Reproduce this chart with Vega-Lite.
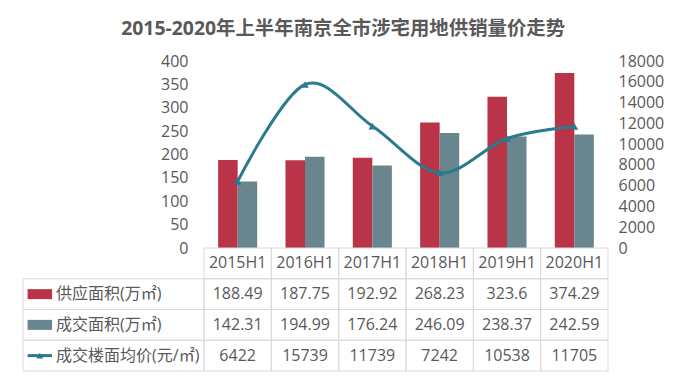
{
  "$schema": "https://vega.github.io/schema/vega-lite/v6.json",
  "padding": {"left": 22, "top": 18, "right": 5, "bottom": 5},
  "title": {
    "text": "2015-2020年上半年南京全市涉宅用地供销量价走势",
    "font": "Open Sans, Noto Sans CJK SC",
    "fontSize": 19.4,
    "fontWeight": "bold",
    "color": "#595959",
    "anchor": "middle",
    "offset": 14
  },
  "datasets": {
    "main": [
      {"year": "2015H1", "supply": 188.49, "deal": 142.31, "price": 6422},
      {"year": "2016H1", "supply": 187.75, "deal": 194.99, "price": 15739},
      {"year": "2017H1", "supply": 192.92, "deal": 176.24, "price": 11739},
      {"year": "2018H1", "supply": 268.23, "deal": 246.09, "price": 7242},
      {"year": "2019H1", "supply": 323.6, "deal": 238.37, "price": 10538},
      {"year": "2020H1", "supply": 374.29, "deal": 242.59, "price": 11705}
    ],
    "series": [
      {"key": "supply", "name": "供应面积(万㎡)"},
      {"key": "deal", "name": "成交面积(万㎡)"},
      {"key": "price", "name": "成交楼面均价(元/㎡)"}
    ]
  },
  "columns": 2,
  "spacing": 0,
  "bounds": "flush",
  "resolve": {"scale": {"x": "independent", "y": "independent", "color": "independent", "xOffset": "independent"}},
  "concat": [
    {
      "width": 181,
      "height": 187,
      "data": {"values": []},
      "mark": "text",
      "encoding": {}
    },
    {
      "width": 404,
      "height": 187,
      "data": {"name": "main"},
      "layer": [
        {
          "transform": [{"fold": ["supply", "deal"], "as": ["key", "value"]}],
          "mark": {"type": "bar"},
          "encoding": {
            "x": {"field": "year", "type": "nominal", "axis": null, "scale": {"paddingInner": 0.42, "paddingOuter": 0.21}},
            "xOffset": {"field": "key", "type": "nominal", "scale": {"domain": ["supply", "deal"], "paddingInner": 0, "paddingOuter": 0}},
            "y": {
              "field": "value", "type": "quantitative",
              "scale": {"domain": [0, 400], "nice": false},
              "axis": {"orient": "left", "values": [0, 50, 100, 150, 200, 250, 300, 350, 400], "labelPadding": 16, "title": null}
            },
            "color": {"field": "key", "type": "nominal", "scale": {"domain": ["supply", "deal"], "range": ["#B93447", "#69858D"]}, "legend": null}
          }
        },
        {
          "layer": [
            {
              "mark": {"type": "line", "interpolate": "cardinal", "color": "#2B7A8E", "strokeWidth": 3},
              "encoding": {
                "x": {"field": "year", "type": "nominal", "axis": null, "scale": {"paddingInner": 0.42, "paddingOuter": 0.21}},
                "y": {
                  "field": "price", "type": "quantitative",
                  "scale": {"domain": [0, 18000], "nice": false},
                  "axis": {"orient": "right", "values": [0, 2000, 4000, 6000, 8000, 10000, 12000, 14000, 16000, 18000], "format": "d", "labelPadding": 10, "title": null}
                }
              }
            },
            {
              "mark": {"type": "point", "shape": "triangle-up", "filled": true, "size": 60, "color": "#2B7A8E", "opacity": 1},
              "encoding": {
                "x": {"field": "year", "type": "nominal", "axis": null},
                "y": {
                  "field": "price", "type": "quantitative",
                  "axis": {"orient": "right", "values": [0, 2000, 4000, 6000, 8000, 10000, 12000, 14000, 16000, 18000], "format": "d", "labelPadding": 10, "title": null}
                }
              }
            }
          ]
        }
      ],
      "resolve": {"scale": {"y": "independent"}}
    },
    {
      "width": 181,
      "height": 123,
      "data": {"name": "series"},
      "layer": [
        {
          "mark": {"type": "rect", "filled": false, "color": "#D9D9D9", "strokeWidth": 1},
          "encoding": {
            "y": {"field": "key", "type": "nominal", "axis": null, "scale": {"domain": ["hdr", "supply", "deal", "price"], "paddingInner": 0, "paddingOuter": 0}}
          }
        },
        {
          "transform": [{"filter": "datum.key != 'price'"}],
          "mark": {"type": "bar", "height": 10},
          "encoding": {
            "x": {"datum": "符号", "type": "nominal", "axis": null, "scale": {"type": "band", "domain": ["符号", "名称", "c3", "c4", "c5"], "paddingInner": 0.141, "paddingOuter": 0.75, "align": 0.108}},
            "y": {"field": "key", "type": "nominal", "axis": null},
            "color": {"field": "key", "type": "nominal", "scale": {"domain": ["supply", "deal"], "range": ["#B93447", "#69858D"]}, "legend": null}
          }
        },
        {
          "transform": [{"filter": "datum.key == 'price'"}],
          "mark": {"type": "bar", "height": 3, "color": "#2B7A8E"},
          "encoding": {
            "x": {"datum": "符号", "type": "nominal", "axis": null},
            "y": {"field": "key", "type": "nominal", "axis": null}
          }
        },
        {
          "transform": [{"filter": "datum.key == 'price'"}],
          "mark": {"type": "point", "shape": "triangle-up", "filled": true, "size": 45, "color": "#2B7A8E", "opacity": 1},
          "encoding": {
            "x": {"datum": "符号", "type": "nominal", "axis": null, "bandPosition": 0.5},
            "y": {"field": "key", "type": "nominal", "axis": null}
          }
        },
        {
          "mark": {"type": "text", "align": "left", "baseline": "middle", "fontSize": 16, "color": "#595959"},
          "encoding": {
            "x": {"datum": "名称", "type": "nominal", "axis": null, "bandPosition": 0},
            "y": {"field": "key", "type": "nominal", "axis": null},
            "text": {"field": "name", "type": "nominal"}
          }
        }
      ]
    },
    {
      "width": 404,
      "height": 123,
      "data": {"name": "main"},
      "layer": [
        {
          "transform": [{"fold": ["supply", "deal", "price"], "as": ["key", "value"]}],
          "mark": {"type": "rect", "filled": false, "color": "#D9D9D9", "strokeWidth": 1},
          "encoding": {
            "x": {"field": "year", "type": "nominal", "axis": null, "scale": {"paddingInner": 0, "paddingOuter": 0}},
            "y": {"field": "key", "type": "nominal", "axis": null, "scale": {"domain": ["hdr", "supply", "deal", "price"], "paddingInner": 0, "paddingOuter": 0}}
          }
        },
        {
          "mark": {"type": "rect", "filled": false, "color": "#D9D9D9", "strokeWidth": 1},
          "encoding": {
            "x": {"field": "year", "type": "nominal", "axis": null},
            "y": {"datum": "hdr", "type": "nominal", "axis": null}
          }
        },
        {
          "transform": [{"fold": ["supply", "deal", "price"], "as": ["key", "value"]}],
          "mark": {"type": "text", "baseline": "middle", "fontSize": 16, "color": "#595959"},
          "encoding": {
            "x": {"field": "year", "type": "nominal", "axis": null},
            "y": {"field": "key", "type": "nominal", "axis": null},
            "text": {"field": "value", "type": "nominal"}
          }
        },
        {
          "mark": {"type": "text", "baseline": "middle", "fontSize": 16, "color": "#595959"},
          "encoding": {
            "x": {"field": "year", "type": "nominal", "axis": null},
            "y": {"datum": "hdr", "type": "nominal", "axis": null},
            "text": {"field": "year", "type": "nominal"}
          }
        }
      ]
    }
  ],
  "config": {
    "view": {"stroke": null},
    "font": "Open Sans, Noto Sans CJK SC",
    "axis": {"labelFont": "Open Sans, Noto Sans CJK SC", "labelFontSize": 16, "labelColor": "#595959", "domain": false, "ticks": false, "grid": false},
    "text": {"font": "Open Sans, Noto Sans CJK SC"}
  }
}
